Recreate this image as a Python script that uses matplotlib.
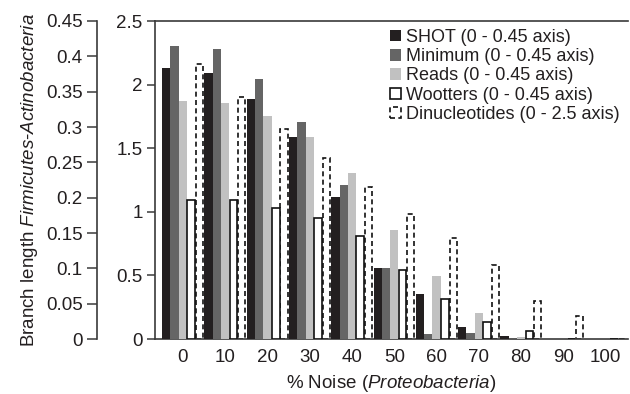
import matplotlib
matplotlib.use("Agg")
import matplotlib.pyplot as plt
import numpy as np

plt.rcParams['font.family'] = ['Liberation Sans', 'DejaVu Sans']
plt.rcParams['mathtext.fontset'] = 'custom'
plt.rcParams['mathtext.rm'] = 'Liberation Sans'
plt.rcParams['mathtext.it'] = 'Liberation Sans:italic'

noise = [0, 10, 20, 30, 40, 50, 60, 70, 80, 90, 100]
shot = [0.384, 0.377, 0.339, 0.286, 0.201, 0.101, 0.064, 0.017, 0.004, 0, 0]
minimum = [0.415, 0.411, 0.368, 0.307, 0.218, 0.101, 0.0075, 0.009, 0, 0, 0]
reads = [0.337, 0.334, 0.316, 0.286, 0.235, 0.154, 0.0886, 0.037, 0.003, 0, 0]
wootters = [0.196, 0.196, 0.186, 0.171, 0.146, 0.098, 0.057, 0.0246, 0.012, 0, 0]
dinuc = [2.16, 1.90, 1.65, 1.42, 1.196, 0.986, 0.796, 0.585, 0.30, 0.184, 0]

labels = ["SHOT (0 - 0.45 axis)", "Minimum (0 - 0.45 axis)", "Reads (0 - 0.45 axis)",
          "Wootters (0 - 0.45 axis)", "Dinucleotides (0 - 2.5 axis)"]

TXT = '#231f20'
SP = '#3a3a3a'
fs = 13.5

fig = plt.figure(figsize=(6.3, 3.94), dpi=100)
ax = fig.add_axes([155/630, 55/394, 473/630, 318/394])
ax2 = ax.twinx()

x = np.arange(len(noise))
w = 0.196

b1 = ax2.bar(x - 2*w, shot, w, color='#231f20', linewidth=0)
b2 = ax2.bar(x - w, minimum, w, color='#656565', linewidth=0)
b3 = ax2.bar(x, reads, w, color='#c1c1c1', linewidth=0)
b4 = ax2.bar(x + w, wootters, w*0.92, color='white', edgecolor='#111111', linewidth=1.2)
b5 = ax.bar(x + 2*w, dinuc, w*0.85, color='white', edgecolor='#111111', linewidth=1.2,
            linestyle=(0, (3, 2)))

ax.set_xlim(-0.66, 10.53)
ax.set_ylim(0, 2.5)
ax2.set_ylim(0, 0.45)

ax.set_xticks(x)
ax.set_xticklabels([str(n) for n in noise], fontsize=fs, color=TXT)
ax.tick_params(axis='x', length=0, pad=7)
ax.set_yticks([0, 0.5, 1, 1.5, 2, 2.5])
ax.set_yticklabels(['0', '0.5', '1', '1.5', '2', '2.5'], fontsize=fs, color=TXT)
ax.tick_params(axis='y', direction='out', length=6, width=1.1, color=SP, pad=3)

ax2.yaxis.tick_left()
ax2.yaxis.set_label_position('left')
ax2.spines['left'].set_position(('outward', 42))
ax2.set_yticks([0, 0.05, 0.1, 0.15, 0.2, 0.25, 0.3, 0.35, 0.4, 0.45])
ax2.set_yticklabels(['0', '0.05', '0.1', '0.15', '0.2', '0.25', '0.3', '0.35', '0.4', '0.45'],
                    fontsize=fs, color=TXT)
ax2.tick_params(axis='y', direction='out', length=7, width=1.1, color=SP, pad=3)

for a in (ax, ax2):
    a.spines['right'].set_visible(False)
ax2.spines['top'].set_visible(False)
ax2.spines['bottom'].set_visible(False)
ax.spines['top'].set_color(SP)
ax.spines['bottom'].set_color(SP)
ax.spines['left'].set_color(SP)
ax2.spines['left'].set_color(SP)
for s in ('top', 'bottom', 'left'):
    ax.spines[s].set_linewidth(1.2)
ax2.spines['left'].set_linewidth(1.2)

ax.set_xlabel('% Noise ($\\it{Proteobacteria}$)', fontsize=fs, color=TXT, labelpad=5)
ax2.set_ylabel('Branch length $\\it{Firmicutes}$-$\\it{Actinobacteria}$', fontsize=fs,
               color=TXT, labelpad=4)

leg = ax.legend([b1, b2, b3, b4, b5], labels, loc='upper right', bbox_to_anchor=(1.0, 1.0),
                frameon=False, fontsize=13, handlelength=0.6, handleheight=0.6,
                handletextpad=0.3, labelspacing=0.12, borderaxespad=0.0, borderpad=0.45)
for t in leg.get_texts():
    t.set_color(TXT)

fig.savefig('out.png', dpi=100)
